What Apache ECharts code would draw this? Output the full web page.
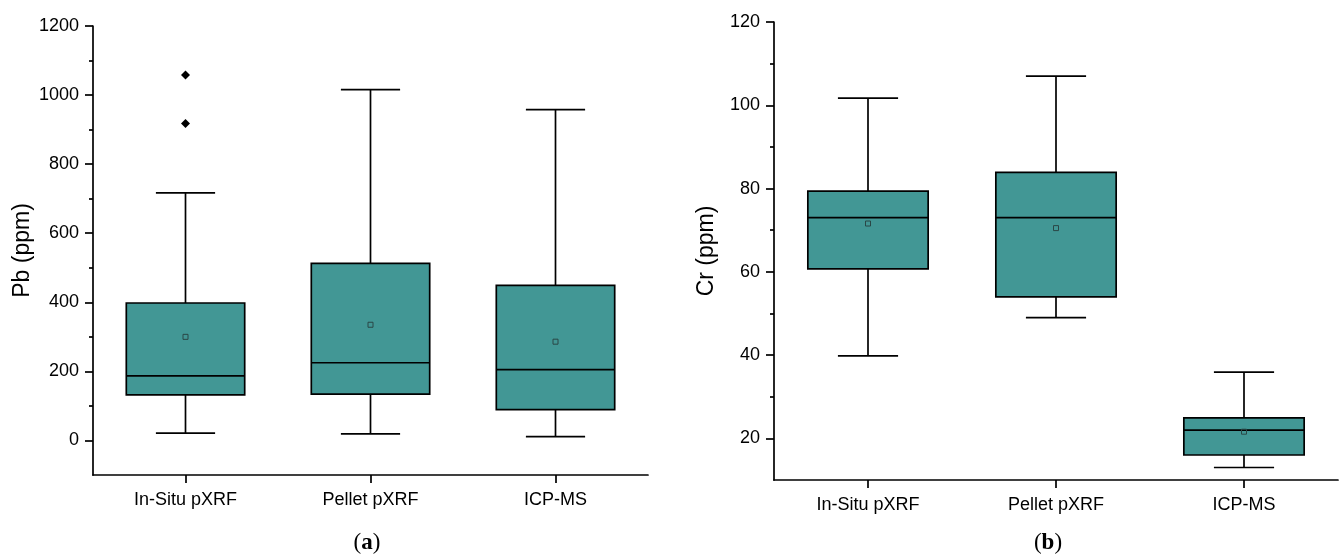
<!DOCTYPE html>
<html>
<head>
<meta charset="utf-8">
<script src="https://cdn.jsdelivr.net/npm/echarts@6/dist/echarts.min.js"></script>
<style>html,body{margin:0;padding:0;background:#fff}#c{width:1344px;height:557px}</style>
</head>
<body>
<div id="c"></div>
<script>
// ---- data ----
const categories = ['In-Situ pXRF', 'Pellet pXRF', 'ICP-MS'];

// Pb (ppm)
const pbLow    = [21, 19, 11];
const pbQ1     = [132, 134, 89];
const pbMedian = [187, 225, 205];
const pbQ3     = [398, 513, 449];
const pbHigh   = [717, 1016, 958];
const pbMean   = [300, 335, 286];
const pbOutlierCat = [0, 0];
const pbOutlierVal = [1058, 918];
const pbTicks = [0, 200, 400, 600, 800, 1000, 1200];
const pbMinorTicks = [100, 300, 500, 700, 900, 1100];

// Cr (ppm)
const crLow    = [39.8, 49.0, 13.0];
const crQ1     = [60.7, 54.0, 16.0];
const crMedian = [73.0, 73.0, 22.0];
const crQ3     = [79.4, 83.9, 24.9];
const crHigh   = [101.7, 107.0, 35.9];
const crMean   = [71.6, 70.5, 21.6];
const crTicks = [20, 40, 60, 80, 100, 120];
const crMinorTicks = [30, 50, 70, 90, 110];

// ---- build ----
function rows(lo, q1, md, q3, hi, mn) {
  return categories.map((c, i) => [i, lo[i], q1[i], md[i], q3[i], hi[i], mn[i]]);
}
const FONT = '"Liberation Sans", Arial, sans-serif';
const BOX_FILL = '#429795';

function renderBox(params, api) {
  const i = api.value(0);
  const lo = api.coord([i, api.value(1)]);
  const q1 = api.coord([i, api.value(2)]);
  const md = api.coord([i, api.value(3)]);
  const q3 = api.coord([i, api.value(4)]);
  const hi = api.coord([i, api.value(5)]);
  const mn = api.coord([i, api.value(6)]);
  const band = api.size([1, 0])[0];
  const hw = band * 0.32, cw = hw / 2, cx = lo[0];
  const ls = {stroke: '#000', lineWidth: 1.7};
  return {
    type: 'group',
    children: [
      {type: 'line', shape: {x1: cx, y1: hi[1], x2: cx, y2: q3[1]}, style: ls},
      {type: 'line', shape: {x1: cx, y1: q1[1], x2: cx, y2: lo[1]}, style: ls},
      {type: 'line', shape: {x1: cx - cw, y1: hi[1], x2: cx + cw, y2: hi[1]}, style: ls},
      {type: 'line', shape: {x1: cx - cw, y1: lo[1], x2: cx + cw, y2: lo[1]}, style: ls},
      {type: 'rect', shape: {x: cx - hw, y: q3[1], width: 2 * hw, height: q1[1] - q3[1]},
        style: {fill: BOX_FILL, stroke: '#000', lineWidth: 1.7}},
      {type: 'line', shape: {x1: cx - hw, y1: md[1], x2: cx + hw, y2: md[1]}, style: ls},
      {type: 'rect', shape: {x: mn[0] - 2.5, y: mn[1] - 2.5, width: 5, height: 5},
        style: {fill: 'none', stroke: '#2a4746', lineWidth: 1}}
    ]
  };
}

function xAxisCfg(grid) {
  return {
    type: 'category', gridIndex: grid, data: categories, boundaryGap: true,
    axisLine: {show: true, onZero: false, lineStyle: {color: '#000', width: 1.7}},
    axisTick: {show: true, alignWithLabel: true, length: 8, lineStyle: {color: '#000', width: 1.7}},
    axisLabel: {fontSize: 18, color: '#000', margin: 16, fontFamily: FONT},
    splitLine: {show: false}
  };
}
function yAxisMain(grid, min, max, ticks, name, gap) {
  return {
    type: 'value', gridIndex: grid, min: min, max: max, position: 'left',
    axisLine: {show: true, onZero: false, lineStyle: {color: '#000', width: 1.7}},
    axisTick: {show: true, length: 8, customValues: ticks, lineStyle: {color: '#000', width: 1.7}},
    axisLabel: {show: true, customValues: ticks, fontSize: 18, color: '#000', margin: 14, fontFamily: FONT,
      formatter: v => String(v)},
    splitLine: {show: false},
    name: name, nameLocation: 'middle', nameRotate: 90, nameGap: gap,
    nameTextStyle: {fontSize: 23, color: '#000', fontFamily: FONT}
  };
}
function yAxisMinor(grid, min, max, ticks) {
  return {
    type: 'value', gridIndex: grid, min: min, max: max, position: 'left', offset: 0,
    axisLine: {show: false},
    axisTick: {show: true, length: 4, customValues: ticks, lineStyle: {color: '#000', width: 1.7}},
    axisLabel: {show: false},
    splitLine: {show: false}
  };
}

const captionRich = {
  p: {fontFamily: '"Liberation Serif", serif', fontSize: 23, color: '#000'},
  b: {fontFamily: '"Liberation Serif", serif', fontSize: 23, fontWeight: 'bold', color: '#000'}
};

const option = {
  animation: false,
  backgroundColor: '#fff',
  grid: [
    {left: 93, top: 26, width: 555, height: 449},
    {left: 774, top: 22, width: 564, height: 458}
  ],
  xAxis: [xAxisCfg(0), xAxisCfg(1)],
  yAxis: [
    yAxisMain(0, -100, 1200, pbTicks, 'Pb (ppm)', 59),
    yAxisMinor(0, -100, 1200, pbMinorTicks),
    yAxisMain(1, 10, 120, crTicks, 'Cr (ppm)', 56),
    yAxisMinor(1, 10, 120, crMinorTicks)
  ],
  series: [
    {
      type: 'custom', xAxisIndex: 0, yAxisIndex: 0,
      data: rows(pbLow, pbQ1, pbMedian, pbQ3, pbHigh, pbMean),
      encode: {x: 0, y: [1, 2, 3, 4, 5, 6]},
      renderItem: renderBox
    },
    {
      type: 'scatter', xAxisIndex: 0, yAxisIndex: 0,
      symbol: 'diamond', symbolSize: 9,
      itemStyle: {color: '#000', opacity: 1},
      data: pbOutlierCat.map((c, i) => [c, pbOutlierVal[i]])
    },
    {
      type: 'custom', xAxisIndex: 1, yAxisIndex: 2,
      data: rows(crLow, crQ1, crMedian, crQ3, crHigh, crMean),
      encode: {x: 0, y: [1, 2, 3, 4, 5, 6]},
      renderItem: renderBox
    }
  ],
  graphic: [
    {type: 'text', x: 367, y: 543, style: {
      text: '{p|(}{b|a}{p|)}', align: 'center', verticalAlign: 'middle', rich: captionRich}},
    {type: 'text', x: 1048, y: 543, style: {
      text: '{p|(}{b|b}{p|)}', align: 'center', verticalAlign: 'middle', rich: captionRich}}
  ]
};
const chart = echarts.init(document.getElementById('c'), null, {renderer: 'canvas'});
chart.setOption(option);
</script>
</body>
</html>
